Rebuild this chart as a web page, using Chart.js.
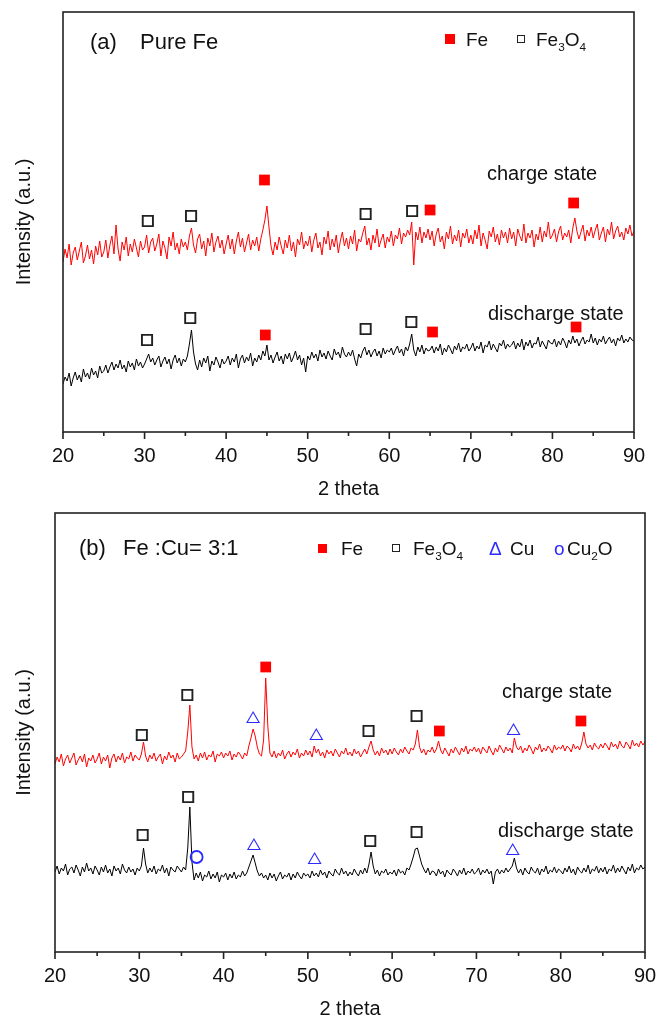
<!DOCTYPE html>
<html>
<head>
<meta charset="utf-8">
<script src="https://cdn.jsdelivr.net/npm/chart.js@4.4.0/dist/chart.umd.min.js"></script>
<style>
  body { margin: 0; background: #fff; }
  #wrap { position: relative; width: 666px; height: 1023px; font-family: "Liberation Sans", Arial, sans-serif; color: #111; }
  canvas { position: absolute; left: 0; }
  .lbl { position: absolute; white-space: nowrap; line-height: 1; }
  .t22 { font-size: 22px; }
  .t20 { font-size: 20px; }
  .t19 { font-size: 19px; }
  sub { font-size: 0.62em; vertical-align: -0.4em; line-height: 0; }
  .sq { position: absolute; width: 10px; height: 10px; background: #ff0000; }
  .osq { position: absolute; width: 6px; height: 6px; border: 1.6px solid #222; }
  .blue { color: #2b2bff; }
</style>
</head>
<body>
<div id="wrap">
  <canvas id="chartA" width="666" height="512" style="top:0"></canvas>
  <canvas id="chartB" width="666" height="523" style="top:500px"></canvas>

  <!-- panel (a) texts -->
  <div class="lbl t22" style="left:90px;top:31px">(a)</div>
  <div class="lbl t22" style="left:140px;top:31px">Pure Fe</div>
  <div class="sq" style="left:445px;top:34px"></div>
  <div class="lbl t19" style="left:466px;top:30px">Fe</div>
  <div class="osq" style="left:517px;top:35px"></div>
  <div class="lbl t19" style="left:536px;top:30px">Fe<sub>3</sub>O<sub>4</sub></div>
  <div class="lbl t20" style="left:487px;top:163px">charge state</div>
  <div class="lbl t20" style="left:488px;top:303px">discharge state</div>

  <!-- panel (b) texts -->
  <div class="lbl t22" style="left:79px;top:537px">(b)</div>
  <div class="lbl t22" style="left:123px;top:537px">Fe :Cu= 3:1</div>
  <div class="sq" style="left:318px;top:544px;width:9px;height:9px"></div>
  <div class="lbl t19" style="left:341px;top:539px">Fe</div>
  <div class="osq" style="left:392px;top:544px"></div>
  <div class="lbl t19" style="left:413px;top:539px">Fe<sub>3</sub>O<sub>4</sub></div>
  <div class="lbl t19 blue" style="left:489px;top:539px">&Delta;</div>
  <div class="lbl t19" style="left:510px;top:539px">Cu</div>
  <div class="lbl t19 blue" style="left:554px;top:539px">o</div>
  <div class="lbl t19" style="left:567px;top:539px">Cu<sub>2</sub>O</div>
  <div class="lbl t20" style="left:502px;top:681px">charge state</div>
  <div class="lbl t20" style="left:498px;top:820px">discharge state</div>
</div>

<script>
// 2 theta sampling grid (degrees), 0.25 step
const twoTheta = [
  20, 20.25, 20.5, 20.75, 21, 21.25, 21.5, 21.75, 22, 22.25, 22.5, 22.75, 23, 23.25, 23.5, 23.75, 24, 24.25, 24.5, 24.75,
  25, 25.25, 25.5, 25.75, 26, 26.25, 26.5, 26.75, 27, 27.25, 27.5, 27.75, 28, 28.25, 28.5, 28.75, 29, 29.25, 29.5, 29.75,
  30, 30.25, 30.5, 30.75, 31, 31.25, 31.5, 31.75, 32, 32.25, 32.5, 32.75, 33, 33.25, 33.5, 33.75, 34, 34.25, 34.5, 34.75,
  35, 35.25, 35.5, 35.75, 36, 36.25, 36.5, 36.75, 37, 37.25, 37.5, 37.75, 38, 38.25, 38.5, 38.75, 39, 39.25, 39.5, 39.75,
  40, 40.25, 40.5, 40.75, 41, 41.25, 41.5, 41.75, 42, 42.25, 42.5, 42.75, 43, 43.25, 43.5, 43.75, 44, 44.25, 44.5, 44.75,
  45, 45.25, 45.5, 45.75, 46, 46.25, 46.5, 46.75, 47, 47.25, 47.5, 47.75, 48, 48.25, 48.5, 48.75, 49, 49.25, 49.5, 49.75,
  50, 50.25, 50.5, 50.75, 51, 51.25, 51.5, 51.75, 52, 52.25, 52.5, 52.75, 53, 53.25, 53.5, 53.75, 54, 54.25, 54.5, 54.75,
  55, 55.25, 55.5, 55.75, 56, 56.25, 56.5, 56.75, 57, 57.25, 57.5, 57.75, 58, 58.25, 58.5, 58.75, 59, 59.25, 59.5, 59.75,
  60, 60.25, 60.5, 60.75, 61, 61.25, 61.5, 61.75, 62, 62.25, 62.5, 62.75, 63, 63.25, 63.5, 63.75, 64, 64.25, 64.5, 64.75,
  65, 65.25, 65.5, 65.75, 66, 66.25, 66.5, 66.75, 67, 67.25, 67.5, 67.75, 68, 68.25, 68.5, 68.75, 69, 69.25, 69.5, 69.75,
  70, 70.25, 70.5, 70.75, 71, 71.25, 71.5, 71.75, 72, 72.25, 72.5, 72.75, 73, 73.25, 73.5, 73.75, 74, 74.25, 74.5, 74.75,
  75, 75.25, 75.5, 75.75, 76, 76.25, 76.5, 76.75, 77, 77.25, 77.5, 77.75, 78, 78.25, 78.5, 78.75, 79, 79.25, 79.5, 79.75,
  80, 80.25, 80.5, 80.75, 81, 81.25, 81.5, 81.75, 82, 82.25, 82.5, 82.75, 83, 83.25, 83.5, 83.75, 84, 84.25, 84.5, 84.75,
  85, 85.25, 85.5, 85.75, 86, 86.25, 86.5, 86.75, 87, 87.25, 87.5, 87.75, 88, 88.25, 88.5, 88.75, 89, 89.25, 89.5, 89.75,
  90
];
const xTicks = [20, 25, 30, 35, 40, 45, 50, 55, 60, 65, 70, 75, 80, 85, 90];

// (a) pure Fe
const pureCharge = [
  206, 219, 210, 224, 203, 215, 221, 208, 217, 226, 205, 212, 223, 209, 218, 204, 222, 213, 227, 211,
  216, 228, 210, 223, 232, 214, 243, 219, 207, 226, 218, 231, 212, 224, 216, 229, 220, 211, 227, 218,
  221, 233, 215, 226, 230, 217, 224, 234, 212, 227, 220, 209, 231, 222, 236, 218, 225, 214, 229, 221,
  226, 218, 232, 240, 223, 215, 229, 234, 219, 227, 212, 230, 222, 235, 216, 226, 232, 220, 228, 214,
  224, 233, 219, 229, 214, 227, 236, 221, 230, 216, 225, 234, 218, 228, 222, 231, 217, 229, 238, 248,
  262, 241, 222, 213, 226, 218, 231, 222, 214, 228, 220, 233, 217, 226, 211, 229, 223, 236, 219, 227,
  222, 232, 216, 228, 235, 220, 226, 213, 231, 224, 237, 218, 229, 221, 233, 215, 227, 236, 222, 230,
  219, 232, 224, 238, 217, 229, 226, 235, 242, 223, 230, 218, 233, 225, 239, 221, 228, 234, 220, 231,
  226, 237, 222, 233, 229, 240, 224, 235, 231, 238, 233, 246, 203, 236, 228, 241, 225, 236, 230, 239,
  228, 237, 222, 234, 240, 226, 232, 219, 236, 229, 242, 224, 233, 227, 238, 221, 235, 230, 239, 225,
  233, 224, 238, 229, 243, 222, 235, 228, 219, 237, 231, 241, 226, 234, 223, 238, 230, 236, 225, 240,
  229, 236, 222, 239, 232, 227, 244, 225, 235, 230, 238, 221, 234, 228, 241, 226, 237, 231, 246, 229,
  233, 239, 226, 236, 242, 228, 235, 231, 238, 225, 240, 250, 237, 229, 236, 243, 227, 238, 232, 241,
  230, 238, 244, 228, 235, 241, 226, 239, 233, 246, 229, 237, 242, 231, 236, 228, 240, 234, 243, 232,
  237
];
const pureDischarge = [
  84, 91, 87, 95, 82, 90, 96, 88, 93, 86, 99, 91, 95, 89, 100, 93, 97, 90, 102, 95,
  97, 103, 95, 101, 106, 98, 104, 100, 108, 99, 103, 96, 107, 101, 105, 98, 109, 102, 106, 100,
  104, 109, 114, 106, 110, 103, 108, 112, 101, 107, 111, 104, 109, 99, 108, 113, 105, 110, 102, 109,
  106, 112, 124, 138, 116, 104, 98, 108, 101, 110, 105, 112, 97, 107, 103, 111, 106, 100, 109, 104,
  107, 112, 103, 110, 106, 114, 100, 109, 113, 105, 111, 107, 115, 102, 110, 106, 113, 108, 117, 112,
  123, 108, 113, 105, 111, 116, 107, 112, 104, 114, 109, 115, 106, 111, 117, 108, 113, 103, 110, 96,
  112, 108, 116, 110, 114, 107, 118, 111, 115, 109, 117, 112, 108, 119, 113, 116, 110, 121, 114, 111,
  116, 112, 118, 109, 102, 114, 110, 117, 121, 113, 118, 111, 116, 119, 112, 117, 110, 120, 114, 118,
  116, 120, 113, 118, 122, 115, 119, 112, 121, 117, 124, 134, 118, 112, 121, 116, 123, 114, 120, 117,
  118, 122, 115, 121, 117, 124, 113, 120, 116, 123, 119, 114, 122, 118, 125, 116, 121, 119, 124, 117,
  120, 125, 117, 122, 119, 126, 115, 123, 121, 127, 118, 124, 120, 116, 125, 122, 128, 119, 124, 121,
  123, 127, 119, 125, 121, 129, 118, 126, 122, 128, 120, 125, 124, 131, 121, 127, 123, 119, 128, 125,
  124, 129, 121, 127, 123, 130, 126, 120, 128, 124, 132, 125, 129, 122, 127, 131, 124, 128, 126, 134,
  125, 130, 123, 129, 126, 132, 124, 128, 131, 125, 129, 122, 130, 127, 133, 125, 129, 126, 131, 128,
  127
];

// (b) Fe:Cu = 3:1
const mixCharge = [
  188, 195, 190, 198, 186, 193, 197, 189, 194, 199, 187, 192, 196, 190, 198, 185, 194, 191, 197, 189,
  193, 199, 188, 195, 191, 197, 184, 194, 198, 190, 196, 192, 199, 189, 195, 193, 200, 191, 197, 194,
  192, 198, 210, 196, 190, 197, 193, 199, 191, 195, 198, 188, 196, 192, 200, 194, 197, 190, 199, 193,
  195, 198, 201, 220, 247, 205, 193, 197, 191, 199, 194, 200, 192, 197, 195, 201, 190, 198, 196, 200,
  194, 199, 196, 201, 192, 198, 195, 200, 197, 193, 199, 196, 206, 214, 223, 216, 205, 198, 196, 212,
  274, 226, 199, 195, 201, 194, 199, 196, 202, 193, 198, 201, 195, 200, 197, 203, 194, 199, 196, 202,
  197, 201, 195, 206, 199, 203, 196, 200, 194, 202, 198, 201, 196, 203, 199, 195, 201, 198, 204, 197,
  200, 196, 203, 198, 201, 195, 199, 203, 198, 205, 211, 202, 197, 201, 196, 204, 199, 202, 197, 203,
  198, 204, 200, 197, 203, 199, 205, 201, 198, 204, 202, 208, 222, 205, 199, 203, 197, 202, 200, 205,
  199, 203, 211, 202, 198, 204, 200, 196, 203, 199, 205, 201, 197, 204, 200, 206, 198, 203, 201, 205,
  200, 204, 198, 205, 202, 199, 206, 201, 197, 204, 200, 207, 203, 199, 205, 201, 204, 199, 214, 205,
  202, 206, 199, 204, 201, 207, 203, 198, 205, 202, 208, 200, 204, 201, 206, 203, 199, 207, 202, 205,
  203, 207, 201, 206, 204, 200, 208, 203, 206, 202, 209, 220, 208, 204, 207, 202, 209, 205, 203, 208,
  204, 209, 206, 202, 210, 205, 208, 203, 211, 206, 204, 210, 207, 203, 212, 206, 209, 205, 211, 207,
  210
];
const mixDischarge = [
  80, 86, 78, 84, 81, 88, 77, 83, 85, 79, 87, 82, 76, 85, 80, 89, 81, 84, 78, 86,
  82, 77, 85, 80, 87, 79, 83, 76, 86, 81, 84, 78, 88, 82, 79, 85, 80, 83, 77, 84,
  81, 86, 104, 88, 79, 84, 80, 86, 78, 83, 81, 87, 79, 84, 76, 85, 82, 80, 86, 83,
  80, 85, 82, 104, 145, 90, 72, 79, 74, 80, 71, 77, 75, 81, 73, 78, 74, 80, 70, 77,
  75, 79, 72, 78, 74, 80, 73, 77, 75, 81, 76, 79, 85, 91, 97, 89, 81, 76, 79, 74,
  77, 72, 79, 74, 78, 71, 76, 80, 73, 77, 75, 79, 72, 78, 74, 80, 76, 73, 79, 76,
  78, 74, 81, 76, 79, 75, 82, 77, 80, 74, 81, 78, 76, 83, 79, 77, 84, 78, 81, 76,
  80, 77, 83, 79, 76, 82, 78, 84, 79, 88, 100, 86, 78, 82, 76, 81, 79, 83, 77, 80,
  78, 82, 76, 83, 79, 81, 77, 84, 82, 88, 95, 103, 104, 96, 88, 83, 79, 84, 77, 81,
  80, 76, 83, 78, 81, 75, 82, 79, 77, 83, 80, 76, 82, 78, 84, 77, 81, 79, 83, 78,
  80, 84, 77, 82, 79, 83, 78, 81, 68, 80, 83, 78, 82, 79, 84, 80, 83, 86, 94, 84,
  79, 83, 77, 84, 80, 78, 85, 81, 79, 84, 77, 83, 80, 86, 78, 82, 80, 85, 79, 83,
  81, 78, 84, 80, 86, 79, 83, 77, 85, 81, 79, 84, 80, 87, 78, 83, 81, 86, 79, 84,
  80, 85, 78, 83, 81, 87, 79, 84, 80, 86, 82, 78, 85, 81, 88, 79, 84, 82, 87, 83,
  85
];

// phase markers, (a)
const feA_chargeX = [44.7, 65.0, 82.6];
const feA_chargeY = [288, 258, 265];
const feA_dischargeX = [44.8, 65.3, 82.9];
const feA_dischargeY = [133, 136, 141];
const magA_chargeX = [30.4, 35.7, 57.1, 62.8];
const magA_chargeY = [247, 252, 254, 257];
const magA_dischargeX = [30.3, 35.6, 57.1, 62.7];
const magA_dischargeY = [128, 150, 139, 146];

// phase markers, (b)
const feB_chargeX = [45.0, 65.6, 82.4];
const feB_chargeY = [285, 221, 231];
const magB_chargeX = [30.3, 35.7, 57.2, 62.9];
const magB_chargeY = [217, 257, 221, 236];
const cuB_chargeX = [43.5, 51.0, 74.4];
const cuB_chargeY = [233, 216, 221];
const magB_dischargeX = [30.4, 35.8, 57.4, 62.9];
const magB_dischargeY = [117, 155, 111, 120];
const cuB_dischargeX = [43.6, 50.8, 74.3];
const cuB_dischargeY = [106, 92, 101];
const cu2oB_dischargeX = [36.8];
const cu2oB_dischargeY = [95];

const pts = (xs, ys) => xs.map((x, i) => ({ x: x, y: ys[i] }));

const FONT = "'Liberation Sans', Arial, sans-serif";
const BLUE = '#2b2bff';

function lineSet(values, color) {
  return {
    type: 'line', data: pts(twoTheta, values), borderColor: color, borderWidth: 1,
    pointRadius: 0, tension: 0, fill: false
  };
}
function feSet(xs, ys) {
  return { type: 'scatter', data: pts(xs, ys), pointStyle: 'rect', pointRadius: 7.6,
    backgroundColor: '#ff0000', borderWidth: 0 };
}
function magSet(xs, ys) {
  return { type: 'scatter', data: pts(xs, ys), pointStyle: 'rect', pointRadius: 7.2,
    backgroundColor: '#fff', borderColor: '#222', borderWidth: 1.9 };
}
function cuSet(xs, ys) {
  return { type: 'scatter', data: pts(xs, ys), pointStyle: 'triangle', pointRadius: 7,
    backgroundColor: 'rgba(0,0,0,0)', borderColor: BLUE, borderWidth: 1.1 };
}
function cu2oSet(xs, ys) {
  return { type: 'scatter', data: pts(xs, ys), pointStyle: 'circle', pointRadius: 6,
    backgroundColor: 'rgba(0,0,0,0)', borderColor: BLUE, borderWidth: 1.8 };
}

// frame + outward tick marks
const frameTicks = {
  id: 'frameTicks',
  afterDraw(chart) {
    const { ctx, chartArea: a, scales: { x } } = chart;
    ctx.save();
    ctx.strokeStyle = '#222';
    ctx.lineWidth = 1.6;
    ctx.strokeRect(a.left, a.top, a.right - a.left, a.bottom - a.top);
    ctx.beginPath();
    xTicks.forEach(v => {
      const px = x.getPixelForValue(v);
      ctx.moveTo(px, a.bottom);
      ctx.lineTo(px, a.bottom + (v % 10 === 0 ? 7 : 4));
    });
    ctx.stroke();
    ctx.restore();
  }
};

function makeChart(id, datasets, yMin, yMax, box) {
  return new Chart(document.getElementById(id), {
    type: 'line',
    data: { datasets: datasets },
    options: {
      responsive: false,
      animation: false,
      events: [],
      layout: { padding: { top: box.top, right: box.right, left: 0, bottom: 0 } },
      plugins: { legend: { display: false }, tooltip: { enabled: false } },
      scales: {
        x: {
          type: 'linear', min: 20, max: 90,
          grid: { display: false }, border: { display: false },
          ticks: { stepSize: 10, padding: 4, color: '#111', font: { family: FONT, size: 20 } },
          title: { display: true, text: '2 theta', color: '#111', font: { family: FONT, size: 20 },
                   padding: { top: 0, bottom: box.titlePad } },
          afterFit: s => { s.height = box.xh; }
        },
        y: {
          min: yMin, max: yMax,
          grid: { display: false }, border: { display: false },
          ticks: { display: false },
          title: { display: true, text: 'Intensity (a.u.)', color: '#111', font: { family: FONT, size: 20 },
                   padding: { top: 12, bottom: 0 } },
          afterFit: s => { s.width = box.left; }
        }
      }
    },
    plugins: [frameTicks]
  });
}

makeChart('chartA', [
  feSet(feA_chargeX, feA_chargeY),
  feSet(feA_dischargeX, feA_dischargeY),
  magSet(magA_chargeX, magA_chargeY),
  magSet(magA_dischargeX, magA_dischargeY),
  lineSet(pureCharge, '#ff0000'),
  lineSet(pureDischarge, '#000000')
], 36, 456, { top: 12, right: 32, left: 63, xh: 80, titlePad: 11 });

makeChart('chartB', [
  feSet(feB_chargeX, feB_chargeY),
  magSet(magB_chargeX, magB_chargeY),
  cuSet(cuB_chargeX, cuB_chargeY),
  magSet(magB_dischargeX, magB_dischargeY),
  cuSet(cuB_dischargeX, cuB_dischargeY),
  cu2oSet(cu2oB_dischargeX, cu2oB_dischargeY),
  lineSet(mixCharge, '#ff0000'),
  lineSet(mixDischarge, '#000000')
], 0, 439, { top: 13, right: 21, left: 55, xh: 71, titlePad: 2 });
</script>
</body>
</html>
